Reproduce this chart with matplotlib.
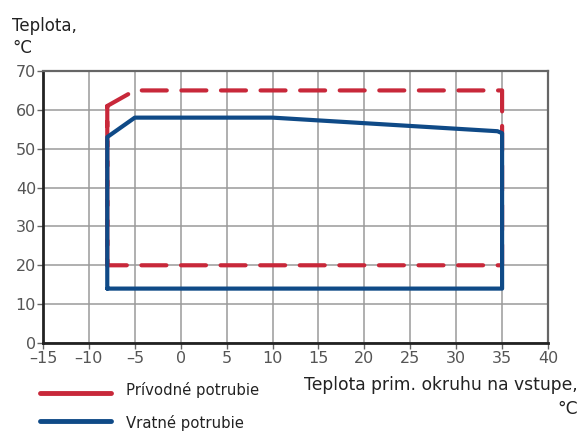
import matplotlib
matplotlib.use("Agg")
import matplotlib.pyplot as plt
from matplotlib.lines import Line2D

# Data
supply_x = [-8, -8, -5, 35, 35, -8, -8]
supply_y = [20, 61, 65, 65, 20, 20, 61]
return_x = [-8, -8, -5, 10, 34.5, 35, 35, -8]
return_y = [14, 53, 58, 58, 54.5, 54, 14, 14]
xticks = [-15, -10, -5, 0, 5, 10, 15, 20, 25, 30, 35, 40]
yticks = [0, 10, 20, 30, 40, 50, 60, 70]
xtick_labels = ["\u201315", "\u201310", "\u20135", "0", "5", "10", "15", "20", "25", "30", "35", "40"]
supply_label = "Prívodné potrubie"
return_label = "Vratné potrubie"
ylabel = "Teplota,\n°C"
xlabel = "Teplota prim. okruhu na vstupe,\n°C"

RED = "#C8283A"
BLUE = "#0F4A87"

plt.rcParams['font.family'] = ['DejaVu Sans']
fig = plt.figure(figsize=(5.81, 4.32), dpi=100)
ax = fig.add_axes([43/581, 1-343/432, (548-43)/581, (343-71)/432])

ax.plot(supply_x, supply_y, color=RED, lw=3, dashes=(6, 3.5), dash_capstyle='round',
        solid_joinstyle='round', zorder=3)
ax.plot(return_x, return_y, color=BLUE, lw=3, solid_capstyle='round',
        solid_joinstyle='round', zorder=4)

ax.set_xlim(-15, 40)
ax.set_ylim(0, 70)
ax.set_xticks(xticks)
ax.set_xticklabels(xtick_labels)
ax.set_yticks(yticks)
ax.grid(True, color="#9a9a9a", lw=1.1)
ax.set_axisbelow(True)
for s in ['left', 'bottom']:
    ax.spines[s].set_color("#222222")
    ax.spines[s].set_linewidth(2)
for s in ['top', 'right']:
    ax.spines[s].set_color("#666666")
    ax.spines[s].set_linewidth(1.6)
ax.tick_params(axis='both', colors="#666666", labelcolor="#555555", labelsize=11.5,
               length=4, width=1)
ax.tick_params(axis='x', pad=2)
ax.tick_params(axis='y', pad=1)

fig.text(12/581, 1-37/432, ylabel, ha='left', va='center', fontsize=12, color="#222222",
         linespacing=1.35)
fig.text(578/581, 1-397/432, xlabel, ha='right', va='center', fontsize=12.3, color="#222222",
         linespacing=1.45)

# Legend
fig.add_artist(Line2D([40/581, 111/581], [1-393/432, 1-393/432], color=RED, lw=3.5,
                      solid_capstyle='round'))
fig.add_artist(Line2D([40/581, 111/581], [1-421/432, 1-421/432], color=BLUE, lw=3.5,
                      solid_capstyle='round'))
fig.text(126/581, 1-390/432, supply_label, ha='left', va='center', fontsize=10.7, color="#222222")
fig.text(126/581, 1-423/432, return_label, ha='left', va='center', fontsize=10.7, color="#222222")

fig.savefig("out.png", dpi=100)
